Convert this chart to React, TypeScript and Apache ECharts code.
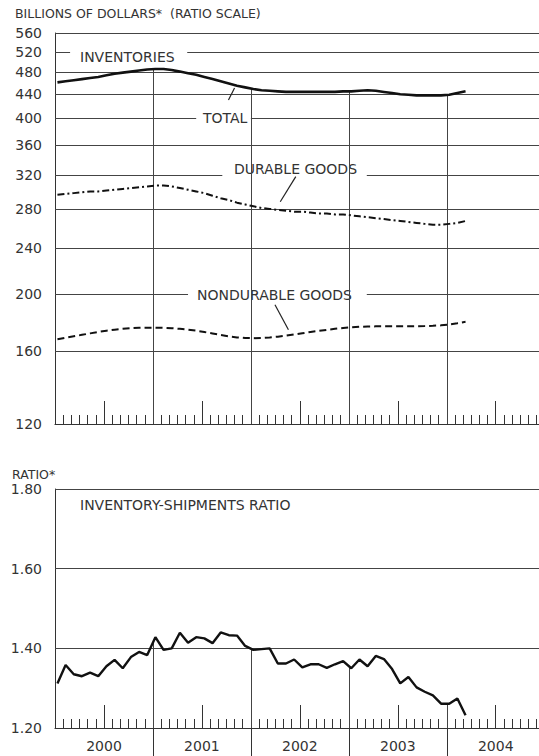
import React, { useEffect, useRef } from "react";
import * as echarts from "echarts";

// ---- data (monthly, Jan 2000 .. Mar 2004) ----
const totalInventories = [
  461, 463, 465, 467, 469, 471, 474, 477, 479, 481, 483, 485,
  486, 486, 484, 481, 478, 475, 471, 467, 463, 459, 455, 452,
  449, 447, 446, 445, 444, 444, 444, 444, 444, 444, 444, 445,
  445, 446, 447, 446, 444, 442, 440, 439, 438, 438, 438, 438,
  439, 442, 445,
];
const durableGoods = [
  296, 297, 298, 299, 300, 300, 301, 302, 303, 304, 305, 306,
  307, 307, 306, 304, 302, 300, 298, 295, 292, 290, 287, 285,
  283, 281, 280, 279, 278, 277, 277, 276, 275, 275, 274, 274,
  273, 272, 271, 270, 269, 268, 267, 266, 265, 264, 263, 263,
  264, 265, 267,
];
const nondurableGoods = [
  167.5, 168.5, 169.5, 170.5, 171.5, 172.5, 173.3, 174, 174.6, 175, 175.3, 175.4,
  175.4, 175.3, 175, 174.6, 174, 173.3, 172.4, 171.4, 170.4, 169.5, 168.8, 168.4,
  168.3, 168.4, 168.8, 169.3, 170, 170.8, 171.6, 172.4, 173.2, 173.9, 174.6, 175.2,
  175.7, 176, 176.2, 176.3, 176.3, 176.3, 176.3, 176.3, 176.4, 176.5, 176.7, 177,
  177.6, 178.5, 179.5,
];
const inventoryShipmentsRatio = [
  1.312, 1.358, 1.335, 1.330, 1.339, 1.330, 1.355, 1.371, 1.350, 1.378, 1.391, 1.383,
  1.428, 1.396, 1.400, 1.439, 1.414, 1.428, 1.425, 1.413, 1.440, 1.433, 1.432, 1.406,
  1.396, 1.398, 1.400, 1.362, 1.362, 1.372, 1.352, 1.360, 1.360, 1.351, 1.360, 1.368,
  1.350, 1.372, 1.355, 1.381, 1.373, 1.348, 1.312, 1.328, 1.302, 1.291, 1.282, 1.261,
  1.261, 1.274, 1.232,
];
const billionTicks = [120, 160, 200, 240, 280, 320, 360, 400, 440, 480, 520, 560];
const ratioTicks = [1.2, 1.4, 1.6, 1.8];
const yearLabels = ["2000", "2001", "2002", "2003", "2004"];

// ---- layout / styling ----
const X_OFFSET = 0.3; // position of a month's point inside the month
const X_MAX = 59.3; // months visible (plot runs off the right edge)
const YEAR_BOUNDS = [12, 24, 36, 48];
const MID_YEARS = [6, 18, 30, 42, 54];
const MONTH_TICKS = Array.from({ length: 59 }, (_, i) => i + 1);
const FONT = "'DejaVu Sans', sans-serif";
const TEXT = "#333";
const GRIDC = "#444";

// grid-line gaps (in months) where labels interrupt the rule lines
const GAPS: Record<number, [number, number]> = {
  520: [1.85, 16.2],
  400: [17.3, 24.0],
  320: [20.5, 38.2],
  200: [16.3, 38.2],
};
// leader lines (month, value) -> (month, value)
const LEADERS_TOP: [number, number, number, number][] = [
  [21.25, 430, 22.0, 451],
  [29.5, 318, 27.6, 288],
  [26.95, 192, 28.6, 174],
];

const LN = Math.log;

function valueAt(arr: number[], x: number) {
  const t = x - X_OFFSET;
  const i = Math.max(0, Math.min(arr.length - 2, Math.floor(t)));
  const f = t - i;
  return arr[i] + (arr[i + 1] - arr[i]) * f;
}

function seg(x1: number, y1: number, x2: number, y2: number, style?: any) {
  const a: any = { coord: [x1, y1] };
  if (style) a.lineStyle = style;
  return [a, { coord: [x2, y2] }];
}

export default function App() {
  const ref = useRef<HTMLDivElement>(null);

  useEffect(() => {
    if (!ref.current) return;
    const chart = echarts.init(ref.current, undefined, { renderer: "svg" });

    const baseX = (gridIndex: number) => ({
      type: "value",
      gridIndex,
      min: 0,
      max: X_MAX,
      position: "bottom",
      splitLine: { show: false },
      axisLabel: { show: false },
      axisLine: { show: false, onZero: false },
      axisTick: { show: false },
    });
    const monthAxis = (g: number) => ({
      ...baseX(g),
      axisLine: { show: true, onZero: false, lineStyle: { color: TEXT, width: 1.2 } },
      axisTick: {
        show: true,
        inside: true,
        length: 9,
        customValues: MONTH_TICKS,
        lineStyle: { color: TEXT, width: 1 },
      },
    });
    const midAxis = (g: number) => ({
      ...baseX(g),
      axisTick: {
        show: true,
        inside: true,
        length: 23,
        customValues: MID_YEARS,
        lineStyle: { color: TEXT, width: 1 },
      },
    });
    const yearAxis = {
      ...baseX(1),
      axisTick: {
        show: true,
        inside: false,
        length: 30,
        customValues: YEAR_BOUNDS,
        lineStyle: { color: TEXT, width: 1 },
      },
      axisLabel: {
        show: true,
        customValues: MID_YEARS,
        formatter: (v: number) => yearLabels[Math.round((v - 6) / 12)],
        fontFamily: FONT,
        fontSize: 14,
        color: TEXT,
        margin: 11,
      },
    };

    // top-panel rule lines with label gaps
    const topGrid: any[] = [];
    billionTicks.forEach((t) => {
      const y = LN(t);
      if (t === 120) return;
      const g = GAPS[t];
      if (g) {
        topGrid.push(seg(0, y, g[0], y));
        topGrid.push(seg(g[1], y, X_MAX, y));
      } else {
        topGrid.push(seg(0, y, X_MAX, y));
      }
    });
    YEAR_BOUNDS.forEach((b) => {
      topGrid.push(seg(b, LN(valueAt(totalInventories, b)), b, LN(120)));
    });
    LEADERS_TOP.forEach(([x1, v1, x2, v2]) => {
      topGrid.push(seg(x1, LN(v1), x2, LN(v2), { color: "#222", width: 1.2 }));
    });

    const bottomGrid: any[] = YEAR_BOUNDS.map((b) =>
      seg(b, valueAt(inventoryShipmentsRatio, b), b, 1.2)
    );

    const lineSeries = (name: string, data: number[][], style: any, xi: number, yi: number) => ({
      name,
      type: "line",
      xAxisIndex: xi,
      yAxisIndex: yi,
      data,
      symbol: "none",
      showSymbol: false,
      silent: true,
      lineStyle: style,
      z: 5,
    });

    const option: any = {
      animation: false,
      backgroundColor: "#fff",
      grid: [
        { left: 55, top: 33, right: 0, height: 391 },
        { left: 55, top: 489, right: 0, height: 239 },
      ],
      xAxis: [monthAxis(0), midAxis(0), monthAxis(1), midAxis(1), yearAxis],
      yAxis: [
        {
          type: "value",
          gridIndex: 0,
          min: LN(120),
          max: LN(560),
          axisLine: { show: true, onZero: false, lineStyle: { color: TEXT, width: 1 } },
          axisTick: { show: false },
          splitLine: { show: false },
          axisLabel: {
            customValues: billionTicks.map((t) => LN(t)),
            formatter: (v: number) => String(Math.round(Math.exp(v))),
            fontFamily: FONT,
            fontSize: 14,
            color: TEXT,
            margin: 13,
          },
        },
        {
          type: "value",
          gridIndex: 1,
          min: ratioTicks[0],
          max: ratioTicks[ratioTicks.length - 1],
          axisLine: { show: true, onZero: false, lineStyle: { color: TEXT, width: 1 } },
          axisTick: { show: false },
          splitLine: { show: false },
          axisLabel: {
            customValues: ratioTicks,
            formatter: (v: number) => v.toFixed(2),
            fontFamily: FONT,
            fontSize: 14,
            color: TEXT,
            margin: 13,
          },
        },
      ],
      series: [
        {
          ...lineSeries("grid-top", [[0, LN(120)]], { opacity: 0 }, 0, 0),
          z: 2,
          markLine: {
            silent: true,
            symbol: ["none", "none"],
            label: { show: false },
            lineStyle: { color: GRIDC, width: 1, type: "solid" },
            data: topGrid,
          },
        },
        lineSeries(
          "TOTAL",
          totalInventories.map((v, i) => [i + X_OFFSET, LN(v)]),
          { color: "#111", width: 2.6 },
          0,
          0
        ),
        lineSeries(
          "DURABLE GOODS",
          durableGoods.map((v, i) => [i + X_OFFSET, LN(v)]),
          { color: "#111", width: 2, type: [7, 3, 2, 3] },
          0,
          0
        ),
        lineSeries(
          "NONDURABLE GOODS",
          nondurableGoods.map((v, i) => [i + X_OFFSET, LN(v)]),
          { color: "#111", width: 2, type: [7, 4] },
          0,
          0
        ),
        {
          ...lineSeries("grid-bottom", [[0, 1.2]], { opacity: 0 }, 2, 1),
          z: 2,
          markLine: {
            silent: true,
            symbol: ["none", "none"],
            label: { show: false },
            lineStyle: { color: GRIDC, width: 1, type: "solid" },
            data: [
              ...ratioTicks.slice(1).map((t) => seg(0, t, X_MAX, t)),
              ...bottomGrid,
            ],
          },
        },
        lineSeries(
          "INVENTORY-SHIPMENTS RATIO",
          inventoryShipmentsRatio.map((v, i) => [i + X_OFFSET, v]),
          { color: "#111", width: 2.4 },
          2,
          1
        ),
      ],
      graphic: [
        { type: "text", x: 15, y: 13, style: { text: "BILLIONS OF DOLLARS*  (RATIO SCALE)", fontFamily: FONT, fontSize: 12.5, fill: TEXT, verticalAlign: "middle" } },
        { type: "text", x: 80, y: 57, style: { text: "INVENTORIES", fontFamily: FONT, fontSize: 14, fill: TEXT, verticalAlign: "middle" } },
        { type: "text", x: 203, y: 118, style: { text: "TOTAL", fontFamily: FONT, fontSize: 14, fill: TEXT, verticalAlign: "middle" } },
        { type: "text", x: 234, y: 169, style: { text: "DURABLE GOODS", fontFamily: FONT, fontSize: 14, fill: TEXT, verticalAlign: "middle" } },
        { type: "text", x: 197, y: 295, style: { text: "NONDURABLE GOODS", fontFamily: FONT, fontSize: 14, fill: TEXT, verticalAlign: "middle" } },
        { type: "text", x: 12, y: 474, style: { text: "RATIO*", fontFamily: FONT, fontSize: 12.5, fill: TEXT, verticalAlign: "middle" } },
        { type: "text", x: 80, y: 505, style: { text: "INVENTORY-SHIPMENTS RATIO", fontFamily: FONT, fontSize: 14, fill: TEXT, verticalAlign: "middle" } },
      ],
    };

    chart.setOption(option);
    return () => chart.dispose();
  }, []);

  return (
    <div
      ref={ref}
      style={{ position: "fixed", left: 0, top: 0, width: 539, height: 756, background: "#fff" }}
    />
  );
}
